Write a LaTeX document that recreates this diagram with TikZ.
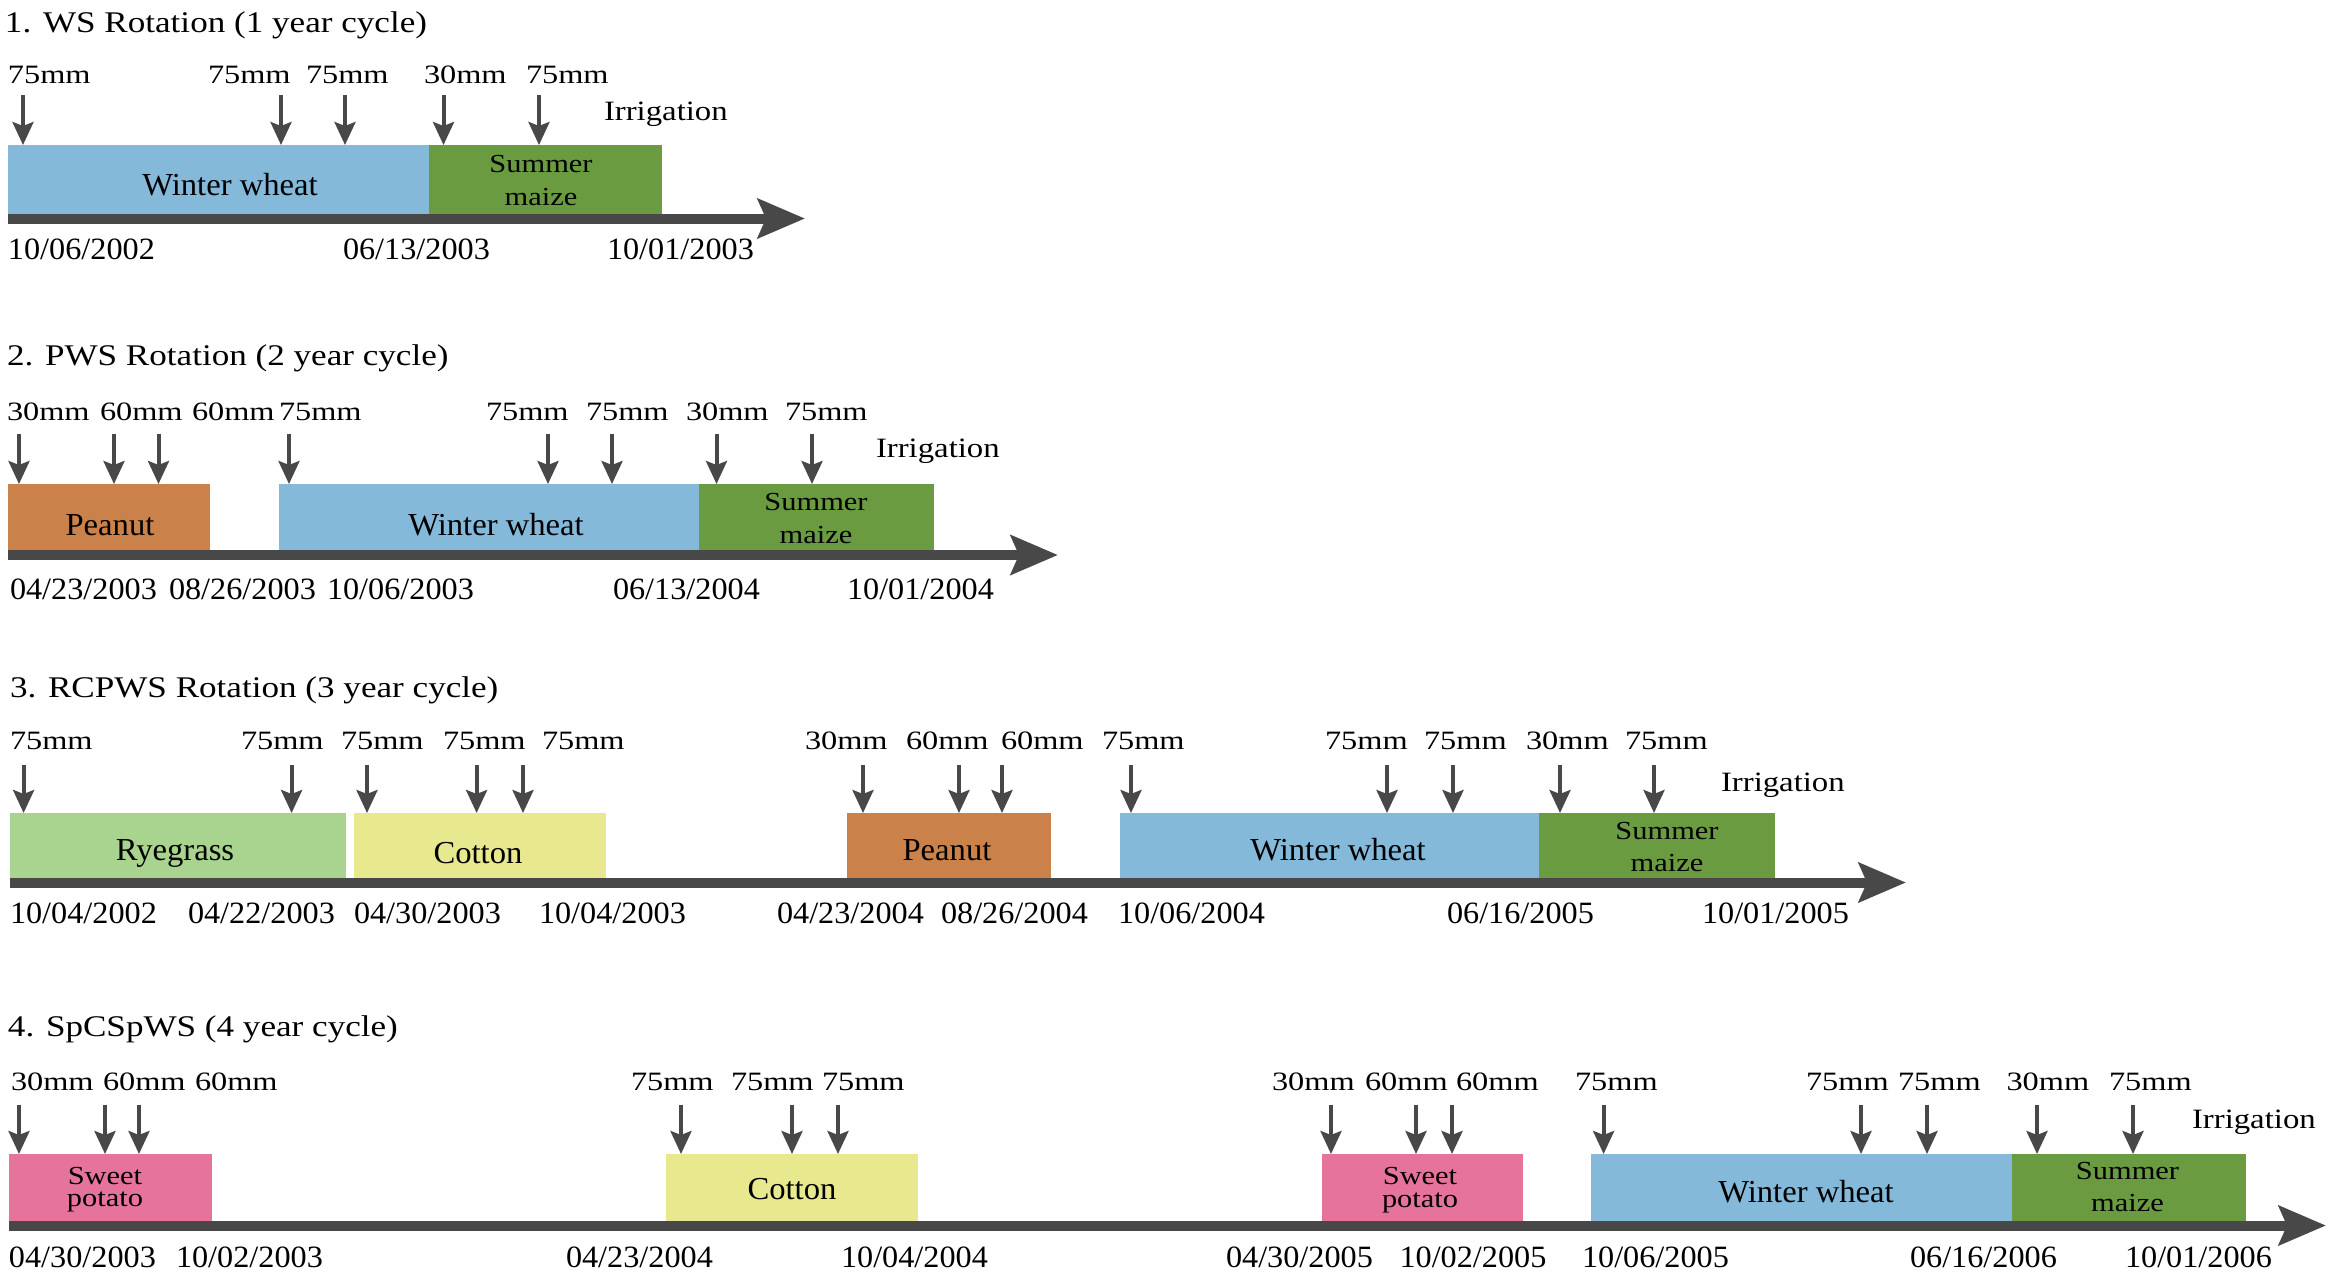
\documentclass[tikz,border=0pt]{standalone}
\usepackage{fontspec}
\setmainfont{Liberation Serif}[FakeStretch=1.15]
\newfontfamily\ttlfont{Liberation Serif}[FakeStretch=1.17]
\newfontfamily\mmfont{Liberation Serif}[FakeStretch=1.22]
\newfontfamily\datefont{Liberation Serif}[FakeStretch=1.04]
\newfontfamily\boxfont{Liberation Serif}[FakeStretch=1.02]
\newfontfamily\twofont{Liberation Serif}[FakeStretch=1.17]
\usetikzlibrary{arrows.meta}
\definecolor{wheatc}{RGB}{133,185,218}
\definecolor{maizec}{RGB}{106,155,65}
\definecolor{peanutc}{RGB}{203,130,74}
\definecolor{ryec}{RGB}{168,212,143}
\definecolor{cottonc}{RGB}{232,232,142}
\definecolor{sweetc}{RGB}{229,115,155}
\definecolor{axisc}{RGB}{72,72,72}
\newcommand\cropbx[6]{\node[cropbox,fill=#2,minimum width={#4pt-#3pt},minimum height={#6pt-#5pt},anchor=north west] (#1) at (#3,#5) {};}
\newcommand\ctrtxt[4]{\node[boxtxt] (#1) at (#2,#3) {#4};}
\newcommand\smtxt[4]{\node[twotxt] (#1) at (#2,#3) {#4};}
\newcommand\irrig[4]{\coordinate (#1t) at (#2,#3); \coordinate (#1b) at (#2,#4); \draw[irrarrow] (#1t) -- (#1b);}
\newcommand\timeaxis[4]{\coordinate (#1s) at (#2,#4); \coordinate (#1e) at (#3,#4); \draw[axisline] (#1s) -- (#1e);}
\tikzset{
  every node/.style={inner sep=0pt, outer sep=0pt},
  cropbox/.style={draw=none, rectangle, inner sep=0pt},
  irrarrow/.style={draw=axisc, line width=4pt, -{Stealth[length=23pt,width=21pt,inset=4pt]}},
  axisline/.style={draw=axisc, line width=10pt, -{Stealth[length=47pt,width=39pt,inset=8pt]}},
  ttl/.style={anchor=base west, font=\ttlfont\fontsize{30}{32}\selectfont},
  mmtxt/.style={anchor=base west, font=\mmfont\fontsize{26.5}{28}\selectfont},
  irrtxt/.style={anchor=base west, font=\ttlfont\fontsize{28}{30}\selectfont},
  datetxt/.style={anchor=base west, font=\datefont\fontsize{31}{33}\selectfont},
  boxtxt/.style={anchor=base, font=\boxfont\fontsize{32}{34}\selectfont},
  twotxt/.style={anchor=base, font=\twofont\fontsize{26}{28}\selectfont},
}
\begin{document}
\begin{tikzpicture}[x=1pt,y=-1pt]
\useasboundingbox (0,0) rectangle (2336,1278);

% ===== Panel 1 =====
\node[ttl] (t1) at (5,32) {1. WS Rotation (1 year cycle)};
\cropbx{p1ww}{wheatc}{8}{429}{145}{214}
\cropbx{p1sm}{maizec}{429}{662}{145}{214}
\timeaxis{p1ax}{8}{805}{218.5}
\foreach \x [count=\i] in {23,281,345,443.5,539}{\irrig{p1a\i}{\x}{95}{145}}
\foreach \x/\t [count=\i] in {8/75mm,208/75mm,306/75mm,424/30mm,526/75mm}
  {\node[mmtxt] (p1l\i) at (\x,83.5) {\t};}
\node[irrtxt] (p1irr) at (604,120) {Irrigation};
\foreach \x/\t [count=\i] in {8/10\slash06\slash2002,343/06\slash13\slash2003,607/10\slash01\slash2003}
  {\node[datetxt] (p1d\i) at (\x,259) {\t};}
\ctrtxt{p1wwt}{230}{195}{Winter wheat}
\smtxt{p1smt}{541}{172}{Summer}
\smtxt{p1smu}{541}{205}{maize}

% ===== Panel 2 =====
\node[ttl] (t2) at (7,365) {2. PWS Rotation (2 year cycle)};
\cropbx{p2pn}{peanutc}{8}{210}{484}{550}
\cropbx{p2ww}{wheatc}{279}{699}{484}{550}
\cropbx{p2sm}{maizec}{699}{934}{484}{550}
\timeaxis{p2ax}{8}{1058}{555}
\foreach \x [count=\i] in {19,114,158.5,289,548,612,716.5,812}{\irrig{p2a\i}{\x}{433.5}{484}}
\foreach \x/\t [count=\i] in {7/30mm,100/60mm,192/60mm,279/75mm,486/75mm,586/75mm,686/30mm,785/75mm}
  {\node[mmtxt] (p2l\i) at (\x,420) {\t};}
\node[irrtxt] (p2irr) at (876,457) {Irrigation};
\foreach \x/\t [count=\i] in {10/04\slash23\slash2003,169/08\slash26\slash2003,327/10\slash06\slash2003,613/06\slash13\slash2004,847/10\slash01\slash2004}
  {\node[datetxt] (p2d\i) at (\x,599) {\t};}
\ctrtxt{p2pnt}{110}{535}{Peanut}
\ctrtxt{p2wwt}{496}{535}{Winter wheat}
\smtxt{p2smt}{816}{510}{Summer}
\smtxt{p2smu}{816}{543}{maize}

% ===== Panel 3 =====
\node[ttl] (t3) at (10,697) {3. RCPWS Rotation (3 year cycle)};
\cropbx{p3rg}{ryec}{10}{346}{813}{878}
\cropbx{p3ct}{cottonc}{354}{606}{813}{878}
\cropbx{p3pn}{peanutc}{847}{1051}{813}{878}
\cropbx{p3ww}{wheatc}{1120}{1539}{813}{878}
\cropbx{p3sm}{maizec}{1539}{1775}{813}{878}
\timeaxis{p3ax}{10}{1906}{882.5}
\foreach \x [count=\i] in {23.6,291.6,367,476.6,523,863,959,1002,1131,1387,1453,1560,1654}{\irrig{p3a\i}{\x}{765}{813}}
\foreach \x/\t [count=\i] in {10/75mm,241/75mm,341/75mm,443/75mm,542/75mm,805/30mm,906/60mm,1001/60mm,1102/75mm,1325/75mm,1424/75mm,1526/30mm,1625/75mm}
  {\node[mmtxt] (p3l\i) at (\x,749) {\t};}
\node[irrtxt] (p3irr) at (1721,791) {Irrigation};
\foreach \x/\t [count=\i] in {10/10\slash04\slash2002,188/04\slash22\slash2003,354/04\slash30\slash2003,539/10\slash04\slash2003,777/04\slash23\slash2004,941/08\slash26\slash2004,1118/10\slash06\slash2004,1447/06\slash16\slash2005,1702/10\slash01\slash2005}
  {\node[datetxt] (p3d\i) at (\x,923) {\t};}
\ctrtxt{p3rgt}{175}{860}{Ryegrass}
\ctrtxt{p3ctt}{478}{863}{Cotton}
\ctrtxt{p3pnt}{947}{860}{Peanut}
\ctrtxt{p3wwt}{1338}{860}{Winter wheat}
\smtxt{p3smt}{1667}{839}{Summer}
\smtxt{p3smu}{1667}{871}{maize}

% ===== Panel 4 =====
\node[ttl] (t4) at (8,1036.5) {4. SpCSpWS (4 year cycle)};
\cropbx{p4sp}{sweetc}{9}{212}{1154}{1221}
\cropbx{p4ct}{cottonc}{666}{918}{1154}{1221}
\cropbx{p4sq}{sweetc}{1322}{1523}{1154}{1221}
\cropbx{p4ww}{wheatc}{1591}{2012}{1154}{1221}
\cropbx{p4sm}{maizec}{2012}{2246}{1154}{1221}
\timeaxis{p4ax}{9}{2326}{1225.5}
\foreach \x [count=\i] in {19,105,139,681,792,838,1331,1416,1452,1603.6,1861,1927,2037,2133}{\irrig{p4a\i}{\x}{1104.6}{1154}}
\foreach \x/\t [count=\i] in {11/30mm,103/60mm,195/60mm,631/75mm,731/75mm,822/75mm,1272/30mm,1365/60mm,1456/60mm,1575/75mm,1806/75mm,1898/75mm,2006.5/30mm,2109/75mm}
  {\node[mmtxt] (p4l\i) at (\x,1090) {\t};}
\node[irrtxt] (p4irr) at (2192,1128) {Irrigation};
\foreach \x/\t [count=\i] in {9/04\slash30\slash2003,176/10\slash02\slash2003,566/04\slash23\slash2004,841/10\slash04\slash2004,1226/04\slash30\slash2005,1399.5/10\slash02\slash2005,1582/10\slash06\slash2005,1910/06\slash16\slash2006,2125/10\slash01\slash2006}
  {\node[datetxt] (p4d\i) at (\x,1267) {\t};}
\smtxt{p4spt}{105}{1184}{Sweet}
\smtxt{p4spu}{105}{1206}{potato}
\ctrtxt{p4ctt}{792}{1199}{Cotton}
\smtxt{p4sqt}{1420}{1184.5}{Sweet}
\smtxt{p4squ}{1420}{1207}{potato}
\ctrtxt{p4wwt}{1806}{1202.5}{Winter wheat}
\smtxt{p4smt}{2127.5}{1179}{Summer}
\smtxt{p4smu}{2127.5}{1211}{maize}
\end{tikzpicture}
\end{document}
